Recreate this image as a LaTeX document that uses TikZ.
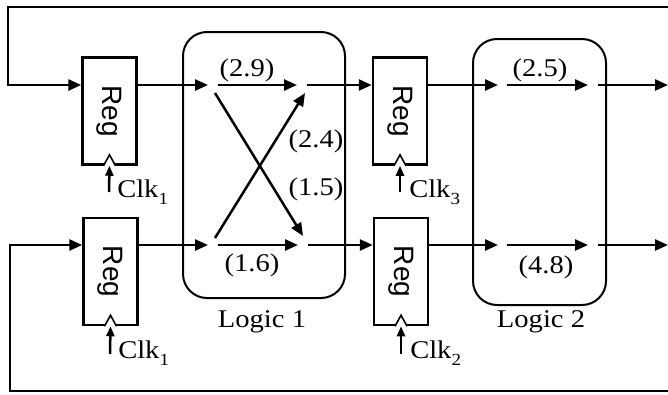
\documentclass[tikz,border=0pt]{standalone}
\usepackage{fontspec}
\setmainfont{Liberation Serif}[FakeStretch=1.12]
\newfontfamily\regfont{Liberation Sans}
\usetikzlibrary{arrows.meta}
\newcommand{\clksub}[1]{\raisebox{-7pt}{\fontsize{17}{17}\selectfont #1}}
\begin{document}
\begin{tikzpicture}[x=1pt,y=-1pt,line width=2.5pt,
  arr/.style={-{Triangle[length=13pt,width=11pt]}},
  clkarr/.style={-{Triangle[length=10pt,width=8pt]}},
  reg/.style={draw,rectangle,minimum width=54pt,minimum height=107pt,inner sep=0pt,
    font=\regfont\fontsize{28}{28}\selectfont},
  logic/.style={draw,rectangle,rounded corners=24pt,line width=2pt,inner sep=0pt},
  lbl/.style={inner sep=0pt,font=\fontsize{25.5}{27}\selectfont},
  clkmark/.style={draw,fill=white,line width=1.6pt}]
\useasboundingbox (0,0) rectangle (668,394);

% logic blocks
\node[logic,minimum width=162pt,minimum height=266pt] (l1) at (264,165) {};
\node[logic,minimum width=133pt,minimum height=266pt] (l2) at (539.5,172) {};
\node[lbl] (l1t) at (262,322) {Logic 1};
\node[lbl] (l2t) at (541,322) {Logic 2};

% registers
\node[reg] (r1) at (109.5,111) {\rotatebox{-90}{Reg}};
\node[reg] (r2) at (110.5,271.5) {\rotatebox{-90}{Reg}};
\node[reg] (r3) at (400,111) {\rotatebox{-90}{Reg}};
\node[reg] (r4) at (401,271.5) {\rotatebox{-90}{Reg}};

% clock marks
\foreach \r in {r1,r2,r3,r4}{
  \draw[clkmark] ([xshift=-6pt]\r.south) -- ([yshift=11pt]\r.south) -- ([xshift=6pt]\r.south);
}
\coordinate (c1) at (109,192);
\coordinate (c2) at (110,354);
\coordinate (c3) at (400,192);
\coordinate (c4) at (401,354);
\draw[clkarr] (c1) -- (r1.south);
\draw[clkarr] (c2) -- (r2.south);
\draw[clkarr] (c3) -- (r3.south);
\draw[clkarr] (c4) -- (r4.south);
\node[lbl,anchor=base west] (k1) at (116,197) {Clk\clksub{1}};
\node[lbl,anchor=base west] (k2) at (117,358) {Clk\clksub{1}};
\node[lbl,anchor=base west] (k3) at (408,197) {Clk\clksub{3}};
\node[lbl,anchor=base west] (k4) at (409,358) {Clk\clksub{2}};

% row coordinates
\coordinate (a1) at (208,85);
\coordinate (b1) at (218,85);
\coordinate (e1) at (297,85);
\coordinate (f1) at (307,85);
\coordinate (a2) at (208,245);
\coordinate (b2) at (218,245);
\coordinate (e2) at (298,245);
\coordinate (f2) at (308,245);
\coordinate (g1) at (498,85);
\coordinate (h1) at (507,85);
\coordinate (i1) at (588,85);
\coordinate (j1) at (598,85);
\coordinate (o1) at (668,85);
\coordinate (g2) at (498,245);
\coordinate (h2) at (507,245);
\coordinate (i2) at (588,245);
\coordinate (j2) at (598,245);
\coordinate (o2) at (668,245);

% logic 1 paths
\draw[arr] (r1.east |- a1) -- (a1);
\draw[arr] (b1) -- (e1);
\draw[arr] (f1) -- (r3.west |- f1);
\draw[arr] (r2.east |- a2) -- (a2);
\draw[arr] (b2) -- (e2);
\draw[arr] (f2) -- (r4.west |- f2);
\coordinate (x1s) at (215,93);
\coordinate (x1e) at (303,236);
\coordinate (x2s) at (215,238);
\coordinate (x2e) at (305,93);
\draw[arr] (x1s) -- (x1e);
\draw[arr] (x2s) -- (x2e);
\node[lbl] (w1) at (247,70) {(2.9)};
\node[lbl] (w2) at (316,141) {(2.4)};
\node[lbl] (w3) at (316,189) {(1.5)};
\node[lbl] (w4) at (252,265) {(1.6)};

% logic 2 paths
\draw[arr] (r3.east |- g1) -- (g1);
\draw[arr] (h1) -- (i1);
\draw[arr] (j1) -- (o1);
\draw[arr] (r4.east |- g2) -- (g2);
\draw[arr] (h2) -- (i2);
\draw[arr] (j2) -- (o2);
\node[lbl] (w5) at (540,70) {(2.5)};
\node[lbl] (w6) at (546,267) {(4.8)};

% feedback
\coordinate (tR) at (668,7);
\coordinate (tL) at (8,7);
\coordinate (bR) at (668,391);
\coordinate (bL) at (10,391);
\draw[arr,line width=2.8pt] (tR) -- (tL) |- (r1.west |- a1);
\draw[arr,line width=2.8pt] (bR) -- (bL) |- (r2.west |- a2);
\end{tikzpicture}
\end{document}
